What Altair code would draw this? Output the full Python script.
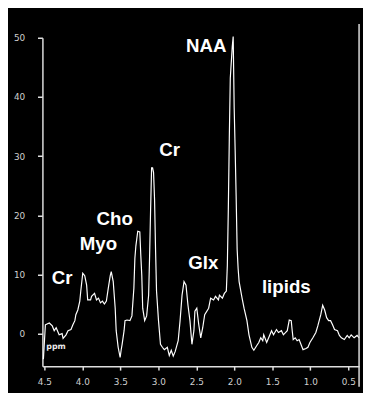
import altair as alt
import pandas as pd

# Spectrum (chemical shift in ppm, signal intensity)
ppm = [4.513, 4.487, 4.435, 4.396, 4.371, 4.345, 4.306, 4.267, 4.254, 4.215, 4.189, 4.150,
       4.125, 4.099, 4.086, 4.060, 4.034, 4.021,
       3.995, 3.969, 3.944, 3.930, 3.892, 3.879, 3.840, 3.814, 3.788, 3.762, 3.736, 3.710,
       3.684, 3.659, 3.633, 3.620, 3.594, 3.568, 3.555, 3.529, 3.503, 3.490, 3.477, 3.451,
       3.439, 3.413, 3.374, 3.348, 3.322, 3.309, 3.296, 3.271, 3.244, 3.231, 3.218, 3.206,
       3.180, 3.154, 3.128, 3.115, 3.102, 3.089, 3.076, 3.063, 3.050, 3.037, 3.024, 2.998,
       2.972, 2.947, 2.921, 2.882, 2.856, 2.830, 2.804, 2.778, 2.739, 2.714, 2.688, 2.662,
       2.636, 2.610, 2.584, 2.558, 2.532, 2.519, 2.494, 2.468, 2.442, 2.416, 2.390, 2.338,
       2.312, 2.273, 2.248, 2.209, 2.196, 2.157, 2.131, 2.105, 2.092, 2.079, 2.066, 2.053,
       2.027, 2.015, 2.002, 1.989, 1.976, 1.963, 1.950, 1.937, 1.898, 1.872, 1.834, 1.807,
       1.769, 1.743, 1.704, 1.678, 1.652, 1.626, 1.613, 1.574, 1.548, 1.510, 1.484, 1.445,
       1.419, 1.380, 1.354, 1.303, 1.277, 1.251, 1.238, 1.225, 1.199, 1.173, 1.147, 1.108,
       1.096, 1.057, 1.031, 1.005, 0.966, 0.927, 0.901, 0.862, 0.837, 0.811, 0.785, 0.759,
       0.733, 0.707, 0.681, 0.642, 0.617, 0.591, 0.552, 0.514, 0.488, 0.462, 0.423, 0.384,
       0.358]
intensity = [-4.3, 1.5, 1.8, 1.3, 0.5, 1.0, -0.2, 0.0, -0.8, -0.2, 0.5, 0.7,
             1.5, 2.2, 3.2, 4.0, 5.5, 7.2,
             10.2, 9.8, 8.2, 5.7, 5.7, 6.3, 6.8, 5.7, 6.0, 5.2, 5.5, 5.0,
             5.5, 7.7, 9.8, 10.5, 8.8, 4.3, 0.5, -2.3, -4.0, -2.8, -1.8, 0.5,
             2.2, 2.3, 2.2, 3.0, 7.7, 12.7, 14.8, 17.3, 17.2, 13.2, 9.8, 4.3,
             2.2, 3.0, 6.5, 13.2, 21.0, 28.0, 28.0, 27.2, 22.7, 14.3, 7.2, 2.2,
             -1.8, -2.3, -2.7, -2.3, -3.7, -2.8, -3.8, -3.0, -1.2, 2.2, 6.5, 8.8,
             8.2, 4.8, 2.2, -1.8, 0.5, 3.8, 4.3, 1.5, -0.7, 1.0, 3.2, 4.3,
             6.0, 5.7, 6.3, 5.7, 6.5, 6.0, 6.8, 7.2, 11.5, 21.0, 33.0, 43.2,
             48.5, 50.2, 38.2, 31.0, 23.2, 14.3, 11.0, 8.8, 6.0, 4.3, 2.2, -0.2,
             -2.3, -2.8, -2.0, -1.5, -0.7, -1.2, -0.2, -1.5, -0.7, 0.5, -0.2, 0.7,
             0.2, 0.5, -0.2, 0.5, 2.3, 2.2, 0.5, -1.0, -0.7, -1.2, -1.0, -2.3,
             -2.7, -2.5, -2.3, -1.5, -0.7, 0.2, 1.3, 3.2, 4.8, 4.0, 2.7, 2.2,
             2.2, 1.5, 0.7, 0.5, -0.3, -0.7, -1.0, -0.3, -0.7, -0.2, -0.7, -0.3,
             -0.7]

peak_names = ["NAA", "Cr", "Cho", "Myo", "Cr", "Glx", "lipids"]
peak_ppm = [2.371, 2.850, 3.574, 3.788, 4.267, 2.409, 1.316]
peak_y = [48.6, 31.0, 19.3, 15.2, 9.4, 12.0, 7.9]

x_ticks = [4.5, 4.0, 3.5, 3.0, 2.5, 2.0, 1.5, 1.0, 0.5]
y_ticks = [0, 10, 20, 30, 40, 50]

spec = pd.DataFrame({"ppm": ppm, "v": intensity})
labels = pd.DataFrame({"name": peak_names, "ppm": peak_ppm, "v": peak_y})
unit = pd.DataFrame({"name": ["ppm"], "ppm": [4.5], "v": [-2.3]})

W, H = 322, 334
xs = alt.Scale(domain=[4.526, 0.358], nice=False, zero=False)
ys = alt.Scale(domain=[-5.5, 50], nice=False, zero=False)

axis_common = dict(
    title=None, grid=False, domainColor="#dedede", domainWidth=1.5,
    tickColor="#dedede", tickWidth=1.5, labelColor="#d0d0d0",
    labelFont="DejaVu Sans", labelFontSize=9, labelFlush=False,
)

line = alt.Chart(spec).mark_line(color="white", strokeWidth=1.2).encode(
    x=alt.X("ppm:Q", scale=xs,
            axis=alt.Axis(values=x_ticks, format=".1f", tickSize=4, labelPadding=8,
                          **axis_common)),
    y=alt.Y("v:Q", scale=ys,
            axis=alt.Axis(values=y_ticks, format="d", tickSize=5, labelPadding=13,
                          **axis_common)),
)

text = alt.Chart(labels).mark_text(
    font="Liberation Sans", fontWeight="bold", fontSize=19, color="white",
    align="center", baseline="middle",
).encode(x=alt.X("ppm:Q", scale=xs), y=alt.Y("v:Q", scale=ys), text="name:N")

unit_text = alt.Chart(unit).mark_text(
    font="DejaVu Sans", fontWeight="bold", fontSize=8, color="#e8e8e8",
    align="left", baseline="middle", dx=2,
).encode(x=alt.X("ppm:Q", scale=xs), y=alt.Y("v:Q", scale=ys), text="name:N")

frame = alt.Chart(pd.DataFrame({"a": [0]})).mark_rule(
    color="#dedede", strokeWidth=1.5
).encode(x=alt.value(W), y=alt.value(-14), y2=alt.value(H + 21))

chart = alt.layer(line, text, unit_text, frame).properties(
    width=W, height=H,
    padding={"left": 35, "top": 27, "right": 4, "bottom": 24},
    autosize="none",
    background="black",
).configure_view(stroke=None)

chart.save("out.html", embed_options={"renderer": "svg", "actions": False})
